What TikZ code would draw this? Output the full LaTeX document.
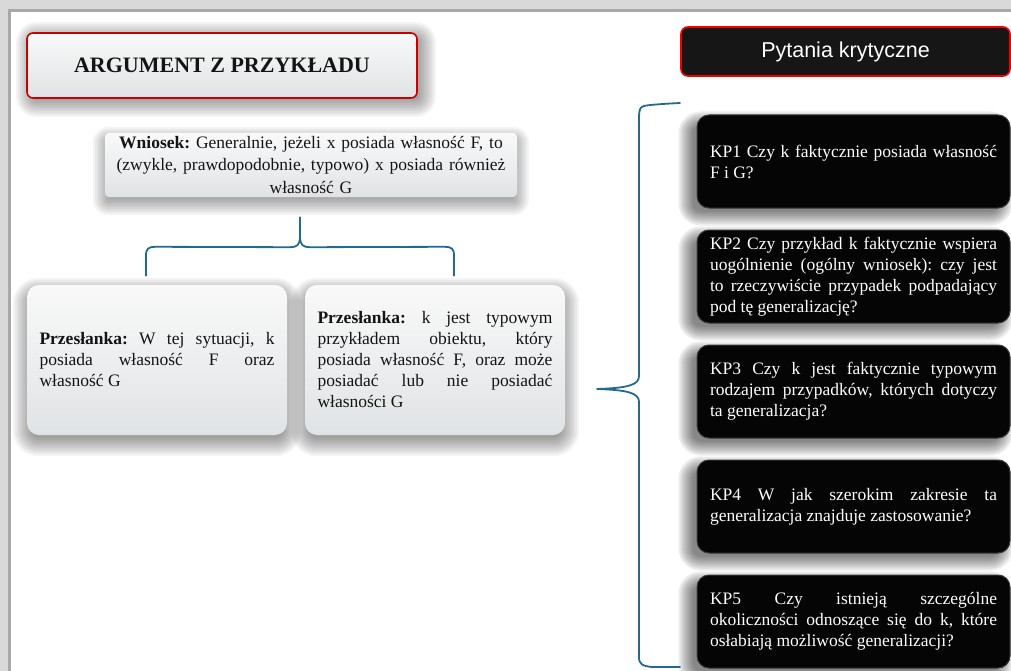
\documentclass[tikz,border=0pt]{standalone}
\usepackage{fontspec}
\setmainfont{Liberation Serif}
\newfontfamily\sansfam{Liberation Sans}
\usetikzlibrary{calc,backgrounds}
\hyphenpenalty=10000
\exhyphenpenalty=10000
\frenchspacing
\definecolor{framegray}{HTML}{D9D9D9}
\definecolor{framedark}{HTML}{A8A8A8}
\definecolor{bracecol}{HTML}{226A8E}
\definecolor{titlered}{HTML}{C80000}
\definecolor{pyred}{HTML}{F00000}
\definecolor{boxtop}{HTML}{F9F9F9}
\definecolor{boxbot}{HTML}{E0E3E5}
\definecolor{kpblack}{HTML}{050505}
\definecolor{txtdark}{HTML}{141414}
\newcommand\mkshadow[6]{% node, dx, dy, corner, opacity, max spread
  \foreach \r in {-4,-2,...,#6}{%
    \pgfmathsetmacro\rc{max(#4+\r,1)}%
    \pgfmathsetmacro\xa{#2-\r}\pgfmathsetmacro\ya{#3-\r}%
    \pgfmathsetmacro\xb{#2+\r}\pgfmathsetmacro\yb{#3+\r}%
    \fill[black, opacity=#5, rounded corners=\rc pt]
      ($(#1.south west)+(\xa pt,\ya pt)$) rectangle ($(#1.north east)+(\xb pt,\yb pt)$);
  }}
\tikzset{
  bodyfont/.style={font=\fontsize{17.5}{21}\selectfont},
  lightbox/.style={top color=boxtop, bottom color=boxbot, draw=none, text=txtdark},
  titlebox/.style={lightbox, draw=titlered, line width=1.6pt, rounded corners=6pt,
    minimum width=390pt, minimum height=65pt, inner sep=0pt,
    font=\fontsize{22}{26}\selectfont\bfseries},
  pybox/.style={fill=kpblack!93!white, draw=pyred, line width=1.6pt, rounded corners=7pt,
    minimum width=329pt, minimum height=49pt, inner sep=0pt, text=white,
    font=\sansfam\fontsize{21.5}{25}\selectfont},
  wnbox/.style={lightbox, rounded corners=4pt, minimum width=412pt, minimum height=64pt,
    text width=400pt, inner xsep=6pt, inner ysep=0pt, align=center,
    font=\fontsize{17.5}{22.5}\selectfont},
  prembox/.style={lightbox, rounded corners=12pt, minimum width=260pt, minimum height=150pt,
    text width=235pt, inner xsep=12.5pt, inner ysep=0pt, align=justify, bodyfont},
  kpbox/.style={fill=kpblack, draw=gray!45!black, line width=1pt, rounded corners=12pt,
    minimum width=313pt, minimum height=93pt, text width=287pt, inner xsep=13pt,
    inner ysep=0pt, align=justify, text=white, bodyfont},
  bracepath/.style={draw=bracecol, line width=1.8pt, line cap=round, line join=round}
}
\begin{document}
\begin{tikzpicture}[x=1pt,y=1pt]
\useasboundingbox (0,0) rectangle (1011,-671);

% title
\node[titlebox] (title) at (222,-65.5) {ARGUMENT Z PRZYKŁADU};
\node[pybox] (py) at (845.5,-51.5) {Pytania krytyczne};

% conclusion
\node[wnbox] (wn) at (311,-165) {\textbf{Wniosek:} Generalnie, jeżeli x posiada własność F, to\\(zwykle, prawdopodobnie, typowo) x posiada również\\własność G};

% premises
\node[prembox] (p1) at (157,-360) {\textbf{Przesłanka:} W tej sytuacji, k\linebreak posiada własność F oraz\linebreak własność G};
\node[prembox] (p2) at (435,-360) {\textbf{Przesłanka:} k jest typowym\linebreak przykładem obiektu, który\linebreak posiada własność F, oraz może\linebreak posiadać lub nie posiadać\linebreak własności G};

% critical questions
\node[kpbox] (kp1) at (853.5,-161.5) {KP1 Czy k faktycznie posiada własność\linebreak F i G?};
\node[kpbox] (kp2) at (853.5,-276.5) {KP2 Czy przykład k faktycznie wspiera\linebreak uogólnienie (ogólny wniosek): czy jest\linebreak to rzeczywiście przypadek podpadający\linebreak pod tę generalizację?};
\node[kpbox] (kp3) at (853.5,-391.5) {KP3 Czy k jest faktycznie typowym\linebreak rodzajem przypadków, których dotyczy\linebreak ta generalizacja?};
\node[kpbox] (kp4) at (853.5,-506.5) {KP4 W jak szerokim zakresie ta\linebreak generalizacja znajduje zastosowanie?};
\node[kpbox] (kp5) at (853.5,-621.5) {KP5 Czy istnieją szczególne\linebreak okoliczności odnoszące się do k, które\linebreak osłabiają możliwość generalizacji?};

% background: frame and shadows
\begin{scope}[on background layer]
\fill[framegray] (0,0) rectangle (1011,-671);
\fill[white] (11,-12) rectangle (1011,-671);
\draw[framedark, line width=3pt] (9.5,-671) -- (9.5,-10.5) -- (1011,-10.5);
\mkshadow{title}{4}{-4}{6}{0.045}{14}
\mkshadow{wn}{0}{-6}{4}{0.045}{12}
\mkshadow{p1}{0}{-7}{12}{0.045}{14}
\mkshadow{p2}{0}{-7}{12}{0.045}{14}
\foreach \k in {kp1,kp2,kp3,kp4,kp5}{\mkshadow{\k}{-8}{-7}{12}{0.075}{10}}
\end{scope}

% brace under conclusion
\coordinate (bTip) at ($(wn.south)+(-11,-20)$);
\coordinate (bL) at ($(p1.north)+(-11,9)$);
\coordinate (bR) at ($(p2.north)+(19,9)$);
\draw[bracepath] (bL) -- ++(0,20) .. controls ++(0,7) and ++(-8,0) .. ($(bL)+(10,29)$)
  -- ($(bTip)+(-10,-30)$) .. controls ++(7,0) and ++(0,-9) .. ($(bTip)+(0,-19)$) -- (bTip);
\draw[bracepath] (bR) -- ++(0,20) .. controls ++(0,7) and ++(8,0) .. ($(bR)+(-10,29)$)
  -- ($(bTip)+(10,-30)$) .. controls ++(-7,0) and ++(0,-9) .. ($(bTip)+(0,-19)$);

% big brace to the questions
\coordinate (rTop) at (680,-103);
\coordinate (rBot) at (680,-667);
\coordinate (rTip) at (597,-389);
\draw[bracepath] (rTop) .. controls (660,-104) and (648,-105) .. (644,-106)
  .. controls (640,-107) and (639,-110) .. (639,-117) -- (639,-376)
  .. controls (639,-385) and (628,-388) .. (rTip)
  .. controls (628,-390) and (639,-393) .. (639,-402) -- (639,-657)
  .. controls (639,-664) and (642,-666) .. (652,-667) -- (rBot);
\end{tikzpicture}
\end{document}
